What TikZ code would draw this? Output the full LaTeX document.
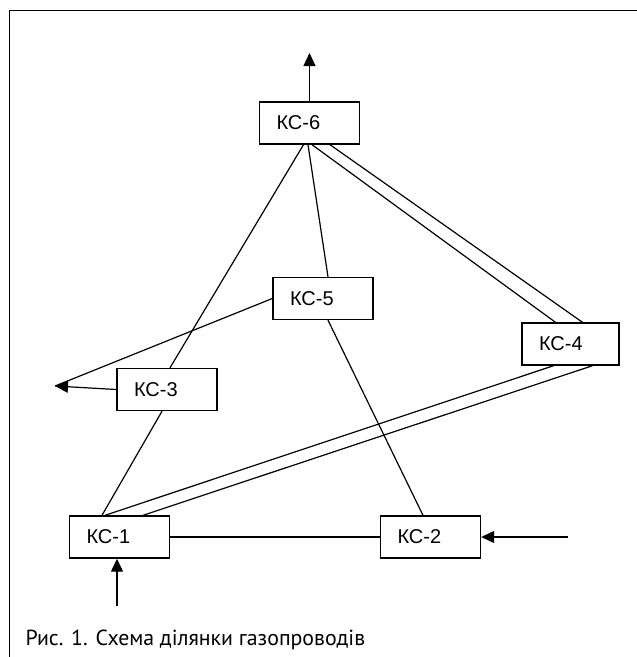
\documentclass[tikz,border=0pt]{standalone}
\usepackage{fontspec}
\setmainfont{Liberation Sans}
\newfontfamily\captionfont{PT Sans}
\usepackage{tikz}
\usetikzlibrary{arrows.meta, positioning}
\tikzset{>={Triangle[length=13pt,width=12pt]}}
\tikzset{ksbox/.style={draw, line width=1.4pt, minimum height=42pt, text width=66pt,
            align=left, inner xsep=17pt, inner ysep=0pt, font=\fontsize{20pt}{22pt}\selectfont}}

\begin{document}
\begin{tikzpicture}[x=1pt,y=-1pt,line width=1.2pt]
            \useasboundingbox (0,0) rectangle (637,657);
            \draw (9.5,657) -- (9.5,10.5) -- (637,10.5);

            \node[ksbox] (K6) at (309.5,123) {КС-6};
            \node[ksbox] (K5) at (323,298.5) {КС-5};
            \node[ksbox,text width=63pt,inner xsep=17pt] (K4) at (570.5,344) {КС-4};
            \node[ksbox] (K3) at (167,389.5) {КС-3};
            \node[ksbox] (K1) at (119.5,537) {КС-1};
            \node[ksbox] (K2) at (430.5,537) {КС-2};

            \coordinate (out6) at (309.5,53);
            \coordinate (out3) at (55,386);
            \coordinate (in1) at (117,606);
            \coordinate (in2) at (568,537);

            \draw[->](K6.north) -- (out6);
            \draw([xshift=-6]K6.south) -- ([xshift=3]K3.north);
            \draw([xshift=-1.5]K6.south) -- ([xshift=5]K5.north);
            \draw([xshift=2.5]K6.south) -- ([xshift=-15]K4.north);
            \draw([xshift=20.5]K6.south) -- ([xshift=12]K4.north);
            \draw(K5.west) -- (out3);
            \draw[->](K3.west) -- (out3);
            \draw([xshift=5]K5.south) -- ([xshift=-7.5]K2.north);
            \draw([xshift=-5]K3.south) -- ([xshift=-17.5]K1.north);
            \draw([xshift=-17]K4.south) -- ([xshift=-14.5]K1.north);
            \draw([xshift=22]K4.south) -- ([xshift=23.5]K1.north);
            \draw(K1.east) -- (K2.west);
            \draw[->](in2) -- (K2.east);
            \draw[->](in1) -- (in1 |- K1.south);

            \node[anchor=base west, inner sep=0pt, font=\captionfont\fontsize{21.8pt}{24pt}\selectfont] (cap) at (25,645) {Рис. 1. Схема ділянки газопроводів};
\end{tikzpicture}
\end{document}
